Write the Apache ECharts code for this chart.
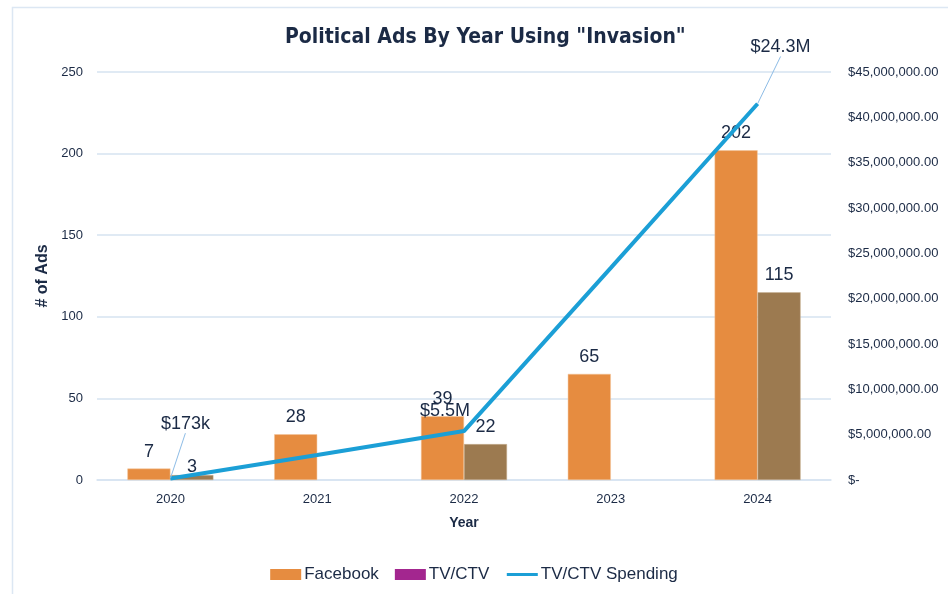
<!DOCTYPE html>
<html>
<head>
<meta charset="utf-8">
<script src="https://cdn.jsdelivr.net/npm/echarts@6/dist/echarts.min.js"></script>
<style>html,body{margin:0;padding:0;background:#fff;}#c{width:948px;height:594px;}</style>
</head>
<body>
<div id="c"></div>
<script>
const years = ['2020', '2021', '2022', '2023', '2024'];
const facebookAds = [7, 28, 39, 65, 202];
const tvAds = [3, null, 22, null, 115];
const tvSpending = [173000, 2760000, 5400000, 23400000, 41500000];
const spendingLabels = ['$173k', '', '$5.5M', '', '$24.3M'];
const leftTicks = [0, 50, 100, 150, 200, 250];
const rightTicks = [0, 5e6, 10e6, 15e6, 20e6, 25e6, 30e6, 35e6, 40e6, 45e6];

const textColor = '#1B2A45';
const labelFont = 'Liberation Sans, Arial, sans-serif';

function money(v) {
  if (v === 0) return '$-';
  return '$' + v.toLocaleString('en-US', {minimumFractionDigits: 2, maximumFractionDigits: 2});
}

const chart = echarts.init(document.getElementById('c'));
const labelShift = {0: [15, -40], 2: [-19, -6], 4: [23, -42]};

chart.setOption({
  animation: false,
  backgroundColor: '#fff',
  textStyle: {fontFamily: labelFont},
  graphic: [{
    type: 'rect', left: 10, top: 5, silent: true,
    shape: {width: 960, height: 620},
    style: {fill: 'none', stroke: '#DCE7F3', lineWidth: 1.5}
  }],
  title: {
    text: 'Political Ads By Year Using "Invasion"',
    left: 280, top: 22,
    textStyle: {fontFamily: 'DejaVu Sans Condensed, sans-serif', fontWeight: 'bold', fontSize: 21, color: textColor}
  },
  legend: {
    bottom: 6, left: 'center',
    itemWidth: 31, itemHeight: 11, itemGap: 16,
    textStyle: {fontSize: 17, color: textColor, fontFamily: labelFont, padding: [0, 0, 0, -2]},
    data: [
      {name: 'Facebook', icon: 'rect', itemStyle: {borderWidth: 0}},
      {name: 'TV/CTV', icon: 'rect', itemStyle: {color: '#A3268F', borderWidth: 0}},
      {name: 'TV/CTV Spending', itemStyle: {opacity: 0}, lineStyle: {width: 3}}
    ]
  },
  grid: {left: 97, right: 117, top: 72, bottom: 114},
  xAxis: {
    type: 'category', data: years,
    name: 'Year', nameLocation: 'middle', nameGap: 36,
    nameTextStyle: {fontWeight: 'bold', fontSize: 14, color: textColor},
    axisLine: {lineStyle: {color: '#D6E3F1', width: 1.5}},
    axisTick: {show: false},
    axisLabel: {fontSize: 13, color: textColor, margin: 13}
  },
  yAxis: [{
    type: 'value', min: leftTicks[0], max: leftTicks[leftTicks.length - 1], interval: 50,
    name: '# of Ads', nameLocation: 'middle', nameGap: 43, nameRotate: 90,
    nameTextStyle: {fontWeight: 'bold', fontSize: 16, color: textColor},
    axisLine: {show: false}, axisTick: {show: false},
    axisLabel: {fontSize: 13, color: textColor, margin: 14},
    splitLine: {lineStyle: {color: '#D6E3F1', width: 1.5}}
  }, {
    type: 'value', min: rightTicks[0], max: rightTicks[rightTicks.length - 1], interval: 5e6,
    position: 'right',
    axisLine: {show: false}, axisTick: {show: false},
    axisLabel: {fontSize: 13, color: textColor, margin: 17, formatter: money},
    splitLine: {show: false}
  }],
  series: [{
    name: 'Facebook', type: 'bar', data: facebookAds,
    barWidth: 43, barGap: '0%',
    itemStyle: {color: '#E68C40', borderColor: '#F3C59B', borderWidth: 0.5},
    label: {show: true, position: 'top', distance: 8, fontSize: 18, color: textColor}
  }, {
    name: 'TV/CTV', type: 'bar',
    data: tvAds.map((v, i) => i === 0 ? {value: v, label: {distance: -1}} : v),
    barWidth: 43,
    itemStyle: {color: '#9C7A50', borderColor: '#C9B394', borderWidth: 0.5},
    label: {show: true, position: 'top', distance: 8, fontSize: 18, color: textColor}
  }, {
    name: 'TV/CTV Spending', type: 'line', yAxisIndex: 1,
    data: tvSpending.map((v, i) => ({
      value: v,
      labelLine: {show: i === 0 || i === 4, lineStyle: {color: '#8DBCE6', width: 1}}
    })),
    symbol: 'circle', symbolSize: 0.5, showSymbol: true, z: 5,
    lineStyle: {color: '#1B9FD6', width: 4},
    itemStyle: {color: '#1B9FD6'},
    label: {
      show: true, position: 'top', distance: 5, fontSize: 18, color: textColor,
      formatter: p => spendingLabels[p.dataIndex]
    },
    labelLayout: p => {
      const s = labelShift[p.dataIndex];
      return s ? {dx: s[0], dy: s[1]} : {};
    }
  }]
});
</script>
</body>
</html>
